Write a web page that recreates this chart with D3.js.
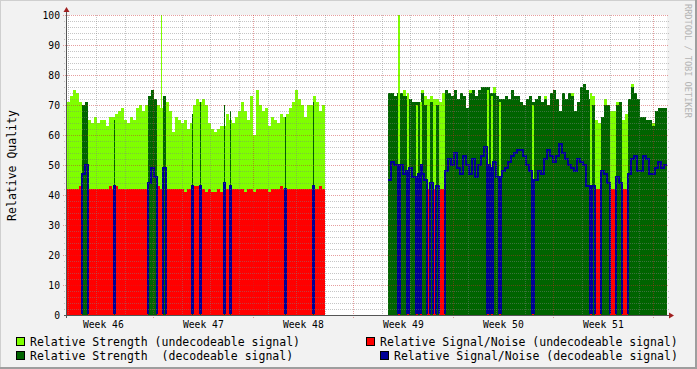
<!DOCTYPE html>
<html><head><meta charset="utf-8">
<script src="https://cdn.jsdelivr.net/npm/d3@7"></script>
<style>html,body{margin:0;padding:0;background:#f2f2f2}svg{display:block}</style>
</head><body>
<script>
// ---------- DATA (one value per 5.04 h step, 200 steps) ----------
// time origin: Monday 00:00 of ISO week 47, in hours
const startHour = -145, stepHours = 5.04;
const weekLabels = ["Week 46","Week 47","Week 48","Week 49","Week 50","Week 51"];
const weekNumbers = [46,47,48,49,50,51];
const yTicks = [0,10,20,30,40,50,60,70,80,90,100];

// U = undecodeable, D = decodeable, - = no data
const flags = ("UUUUUDDUUU" + "UUUUUUUUUU" + "UUUUUUUDDD" + "UUDUUUUUUU" + "UUUUUUUUUU" +
  "UUUUUUUUUU" + "UUUUUUUUUU" + "UUUUUUUUUU" + "UUUUUU" + "---------------------" + "DDD" +
  "DDDDDDDDDD" + "UDUDUUDDDD" + "DDDDDDDDDD" + "DDDDDDDDDD" + "DDDDDDDDDD" +
  "DDDDDDDDDD" + "DDDDDDUUDD" + "DUUDDUUDDD" + "DDDDDDDDDD").split("");

const strength = [
  71,73,75,74,71,70,71,65,64,66,
  64,65,65,63,66,66,67,68,69,65,
  64,66,65,69,70,68,70,73,75,72,
  70,69,73,71,68,61,66,65,64,65,
  62,64,70,72,71,72,70,64,62,61,
  62,63,63,67,65,64,66,68,71,68,
  65,73,60,75,70,68,69,63,66,65,
  64,67,66,67,69,71,75,72,70,66,
  70,70,73,71,68,70,
  null,null,null,null,null,null,null,null,null,null,null,null,null,null,null,null,null,null,null,null,null,
  74,74,73,
  74,74,73,73,72,71,71,71,74,70,
  72,71,72,70,71,74,75,74,73,75,
  72,74,73,69,74,75,73,75,76,76,
  76,74,74,73,72,72,73,72,75,73,
  73,71,70,72,73,71,72,73,71,72,
  70,74,75,72,68,74,72,74,73,68,
  71,76,77,75,72,70,65,64,66,70,
  70,68,68,70,71,65,67,72,76,74,
  72,66,66,65,65,63,68,69,69,69];

const snr = [
  42,42,42,42,43,47,50,42,42,42,
  42,42,42,42,43,42,43,42,42,42,
  42,42,42,42,42,42,42,44,49,46,
  43,42,49,42,42,42,42,42,42,41,
  42,42,43,43,42,42,41,42,41,41,
  42,41,42,42,42,42,42,42,42,41,
  42,42,41,42,42,42,42,41,42,42,
  42,43,42,42,42,42,42,42,42,42,
  42,42,42,42,43,42,
  null,null,null,null,null,null,null,null,null,null,null,null,null,null,null,null,null,null,null,null,null,
  45,51,50,
  50,49,47,48,49,46,46,47,50,45,
  42,44,42,43,42,42,48,52,50,54,
  49,47,53,50,47,52,46,50,53,56,
  50,49,51,46,46,48,49,51,53,54,
  55,55,53,50,48,45,45,48,47,52,
  55,53,51,53,57,54,52,50,49,48,
  52,51,50,43,43,43,42,42,48,47,
  44,42,42,46,44,42,42,47,52,53,
  48,48,53,52,47,47,49,51,49,50];

// undecodeable strength peaks inside decodeable steps: [step, value]
const lightPeaks = [[112,75],[118,75],[119,73],[121,73],[123,72],[134,75],[142,76],
  [159,73],[168,74],[175,73],[179,72],[183,71],[188,77],[195,64]];

// short decodeable bursts inside undecodeable periods: [start hour, duration h, strength, s/n]
const decodeBursts = [[-66.0,1.68,65,43],[65.0,1.68,67,43],[78.4,1.68,71,43],[118.8,1.68,70,44],
  [128.8,1.68,68,43],[221.2,1.68,66,42],[268.3,1.68,71,43]];
// short undecodeable bursts: [start hour, duration h, strength, s/n]
const undecodeBursts = [[12.9,1.68,100,42],[411.1,3.36,100,43],[426.2,3.36,74,42],[441.3,3.36,70,43],
  [448.0,3.36,71,42],[560.6,3.36,75,42],[567.3,3.36,73,42],[580.8,3.36,71,42],
  [636.2,3.36,70,43],[733.6,3.36,74,43]];

const legendItems = [
  {label:"Relative Strength (undecodeable signal)", color:"#7fff00"},
  {label:"Relative Signal/Noise (undecodeable signal)", color:"#ff0000"},
  {label:"Relative Strength  (decodeable signal)", color:"#006400"},
  {label:"Relative Signal/Noise (decodeable signal)", color:"#000096"}
];

if (flags.length !== 200 || strength.length !== 200 || snr.length !== 200)
  throw new Error("length mismatch " + flags.length + " " + strength.length + " " + snr.length);

// ---------- CHART ----------
const W = 697, H = 369;
const C = {light:"#7fff00", red:"#ff0000", dark:"#006400", blue:"#000096"};
const mono = "'DejaVu Sans Mono', monospace";

const steps = flags.map((f,i)=>({i, f, t: startHour + i*stepHours, t1: startHour + (i+1)*stepHours,
  s: strength[i], n: snr[i]}));
const dB = decodeBursts.map(d=>({t:d[0], t1:d[0]+d[1], s:d[2], n:d[3], f:"D"}));
const uB = undecodeBursts.map(d=>({t:d[0], t1:d[0]+d[1], s:d[2], n:d[3], f:"U"}));

const x = d3.scaleLinear().domain([startHour, startHour + 200*stepHours]).range([67, 667]);
const y = d3.scaleLinear().domain([0,100]).range([315, 15]);

const svg = d3.select("body").append("svg").attr("width",W).attr("height",H)
  .attr("font-family", mono);

svg.append("rect").attr("width",W).attr("height",H).attr("fill","#f2f2f2");
svg.append("path").attr("d",`M0,0H${W}V1H1V${H}H0Z`).attr("fill","#cfcfcf");
svg.append("path").attr("d",`M${W},${H}H0V${H-2}H${W-2}V0H${W}Z`).attr("fill","#9e9e9e");

// canvas
svg.append("rect").attr("x",x.range()[0]).attr("y",y(100)).attr("width",x.range()[1]-x.range()[0])
  .attr("height",y(0)-y(100)).attr("fill","#ffffff");

const g = svg.append("g").attr("shape-rendering","crispEdges");
const rx = d => x(d.t), rw = d => x(d.t1) - x(d.t);
function bars(data, key, color){
  g.append("g").selectAll("rect").data(data).join("rect")
    .attr("x",rx).attr("width",rw).attr("y",d=>y(d[key])).attr("height",d=>y(0)-y(d[key])).attr("fill",color);
}
const U = steps.filter(d=>d.f==="U"), D = steps.filter(d=>d.f==="D");
bars(U, "s", C.light);
bars(lightPeaks.map(p=>({t:steps[p[0]].t, t1:steps[p[0]].t1, s:p[1]})), "s", C.light);
bars(U, "n", C.red);
bars(D, "s", C.dark);
bars(dB, "s", C.dark);
bars(uB, "s", C.light);
bars(uB, "n", C.red);

// blue line: decodeable S/N (0 when undecodeable)
svg.append("clipPath").attr("id","clipb").append("rect").attr("x",0).attr("y",0).attr("width",W).attr("height",314);
const baseV = d => d.f==="-" ? null : (d.f==="D" ? d.n : 0);
let linePts = steps.map(d=>({t:d.t, v: baseV(d)}));
const last = steps[steps.length-1];
linePts.push({t:last.t1, v: baseV(last)});
[...dB, ...uB].forEach(b=>{
  const host = steps[Math.floor((b.t - startHour)/stepHours)];
  linePts.push({t:b.t, v: b.f==="D" ? b.n : 0});
  linePts.push({t:b.t1, v: baseV(host)});
});
linePts.sort((a,b)=>a.t-b.t);
svg.append("path").attr("clip-path","url(#clipb)")
  .attr("d", d3.line().defined(d=>d.v!==null).x(d=>x(d.t)).y(d=>y(d.v)).curve(d3.curveStepAfter)(linePts))
  .attr("fill","none").attr("stroke",C.blue).attr("stroke-width",2).attr("shape-rendering","crispEdges");

// grid (drawn on top)
const grid = svg.append("g").attr("shape-rendering","crispEdges");
const minorCol = "rgba(128,128,128,0.45)", majorCol = "rgba(200,40,40,0.45)";
const hMinor = d3.range(2,100,2).filter(v=>v%10!==0);
grid.selectAll("line.hm").data(hMinor).join("line")
  .attr("x1",64).attr("x2",669).attr("y1",d=>y(d)+0.5).attr("y2",d=>y(d)+0.5)
  .attr("stroke",minorCol).attr("stroke-dasharray","1,1");
grid.selectAll("line.hM").data(yTicks.filter(v=>v>0)).join("line")
  .attr("x1",63).attr("x2",669).attr("y1",d=>y(d)+0.5).attr("y2",d=>y(d)+0.5)
  .attr("stroke",majorCol).attr("stroke-dasharray","1,1");
const [t0,t1] = x.domain();
const vMinor = d3.range(Math.ceil(t0/48)*48, t1, 48).filter(h=>h%168!==0);
grid.selectAll("line.vm").data(vMinor).join("line")
  .attr("x1",d=>Math.round(x(d))+0.5).attr("x2",d=>Math.round(x(d))+0.5).attr("y1",15).attr("y2",317)
  .attr("stroke",minorCol).attr("stroke-dasharray","1,1");
const vMajor = d3.range(Math.ceil(t0/168)*168, t1, 168);
grid.selectAll("line.vM").data(vMajor).join("line")
  .attr("x1",d=>Math.round(x(d))+0.5).attr("x2",d=>Math.round(x(d))+0.5).attr("y1",15).attr("y2",318)
  .attr("stroke",majorCol).attr("stroke-dasharray","1,1");

// axes
const axisCol = "#555";
svg.append("line").attr("x1",64).attr("x2",670).attr("y1",315.5).attr("y2",315.5).attr("stroke",axisCol);
svg.append("line").attr("x1",66.5).attr("x2",66.5).attr("y1",318).attr("y2",11).attr("stroke",axisCol);
svg.append("path").attr("d","M669,312.5L674,315.5L669,318.5Z").attr("fill","#a02020");
svg.append("path").attr("d","M63.5,12L66.5,7L69.5,12Z").attr("fill","#a02020");

// y tick labels
svg.selectAll("text.yl").data(yTicks).join("text")
  .attr("x",60).attr("y",d=>y(d)+3.5).attr("text-anchor","end")
  .attr("font-size","9.7px").attr("fill","#000").text(d=>d);

// week labels (centred mid-week)
svg.selectAll("text.wl").data(weekNumbers).join("text")
  .attr("x",d=>x((d-47)*168 + 84)).attr("y",328).attr("text-anchor","middle")
  .attr("font-size","9.7px").attr("fill","#000").text((d,i)=>weekLabels[i]);

// y title
svg.append("text").attr("transform","translate(16,165.5) rotate(-90)").attr("text-anchor","middle")
  .attr("font-size","11.5px").attr("fill","#000").text("Relative Quality");

// watermark
svg.append("text").attr("transform","translate(684.5,4) rotate(90)")
  .attr("font-size","8.6px").attr("fill","#b4b4b4").text("RRDTOOL / TOBI OETIKER");

// legend
const legPos = [{x:16,y:337},{x:366,y:337},{x:16,y:351},{x:380,y:351}];
const lg = svg.append("g").selectAll("g").data(legendItems).join("g")
  .attr("transform",(d,i)=>`translate(${legPos[i].x},${legPos[i].y})`);
lg.append("rect").attr("x",0.5).attr("y",0.5).attr("width",8).attr("height",8)
  .attr("fill",d=>d.color).attr("stroke","#000").attr("stroke-width",1).attr("shape-rendering","crispEdges");
lg.append("text").attr("x",14).attr("y",8.5).attr("font-size","11.5px").attr("fill","#000")
  .attr("xml:space","preserve").style("white-space","pre").text(d=>d.label);
</script>
</body></html>
